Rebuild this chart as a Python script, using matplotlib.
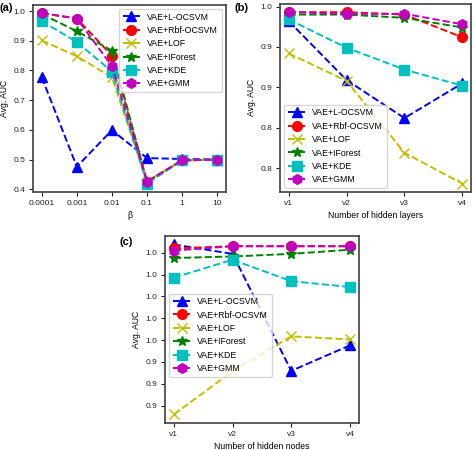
import matplotlib
matplotlib.use("Agg")
import matplotlib.pyplot as plt

plt.rcParams["font.family"] = ["Liberation Sans", "DejaVu Sans"]
plt.rcParams["font.size"] = 6

metodos = ["VAE+L-OCSVM", "VAE+Rbf-OCSVM", "VAE+LOF", "VAE+IForest", "VAE+KDE", "VAE+GMM"]

# Panel (a): beta
betas = ["0.0001", "0.001", "0.01", "0.1", "1", "10"]
auc_beta = {
    "VAE+L-OCSVM": [0.777, 0.476, 0.599, 0.505, 0.502, 0.500],
    "VAE+Rbf-OCSVM": [0.993, 0.975, 0.850, 0.426, 0.497, 0.500],
    "VAE+LOF": [0.901, 0.848, 0.777, 0.426, 0.497, 0.500],
    "VAE+IForest": [0.990, 0.932, 0.867, 0.426, 0.497, 0.500],
    "VAE+KDE": [0.966, 0.896, 0.796, 0.419, 0.497, 0.500],
    "VAE+GMM": [0.993, 0.975, 0.815, 0.426, 0.497, 0.500],
}

# Panel (b): capas ocultas
capas = ["v1", "v2", "v3", "v4"]
auc_capas = {
    "VAE+L-OCSVM": [0.982, 0.909, 0.862, 0.905],
    "VAE+Rbf-OCSVM": [0.993, 0.993, 0.990, 0.962],
    "VAE+LOF": [0.942, 0.908, 0.819, 0.781],
    "VAE+IForest": [0.990, 0.990, 0.986, 0.974],
    "VAE+KDE": [0.984, 0.949, 0.922, 0.902],
    "VAE+GMM": [0.993, 0.991, 0.991, 0.978],
}
ticks_capas = [0.80, 0.85, 0.90, 0.95, 1.00]
etiquetas_capas = ["0.8", "0.8", "0.9", "0.9", "1.0"]

# Panel (c): nodos ocultos
nodos = ["v1", "v2", "v3", "v4"]
auc_nodos = {
    "VAE+L-OCSVM": [0.9938, 0.9895, 0.9359, 0.9476],
    "VAE+Rbf-OCSVM": [0.9920, 0.9930, 0.9930, 0.9930],
    "VAE+LOF": [0.9159, 0.9357, 0.9517, 0.9503],
    "VAE+IForest": [0.9876, 0.9883, 0.9895, 0.9914],
    "VAE+KDE": [0.9786, 0.9868, 0.9770, 0.9743],
    "VAE+GMM": [0.9910, 0.9930, 0.9930, 0.9930],
}
ticks_nodos = [0.92, 0.93, 0.94, 0.95, 0.96, 0.97, 0.98, 0.99]
etiquetas_nodos = ["0.9", "0.9", "0.9", "1.0", "1.0", "1.0", "1.0", "1.0"]

estilos = {
    "VAE+L-OCSVM": ("b", "^"),
    "VAE+Rbf-OCSVM": ("r", "o"),
    "VAE+LOF": ("y", "x"),
    "VAE+IForest": ("g", "*"),
    "VAE+KDE": ("c", "s"),
    "VAE+GMM": ("m", "h"),
}


# Dibujar un panel con las seis curvas y su leyenda
def dibujar_panel(ax, categorias, valores, xlabel, letra, loc, bbox=None):
    posiciones = list(range(len(categorias)))
    for metodo in metodos:
        color, marcador = estilos[metodo]
        ax.plot(posiciones, valores[metodo], linestyle="--", color=color, marker=marcador,
                markersize=7, linewidth=1.4, label=metodo)
    ax.set_xticks(posiciones)
    ax.set_xticklabels(categorias)
    ax.set_xlabel(xlabel, fontsize=6.2, labelpad=3)
    ax.set_ylabel("Avg. AUC", fontsize=6.2, labelpad=3)
    for spine in ax.spines.values():
        spine.set_linewidth(1.2)
        spine.set_color("#404040")
    ax.tick_params(colors="#222222", labelsize=6, length=3, pad=2.5)
    if bbox is None:
        ax.legend(loc=loc, fontsize=6.3)
    else:
        ax.legend(loc=loc, bbox_to_anchor=bbox, fontsize=6.3)
    ax.figure.text(*letra[1], letra[0], fontweight="bold", fontsize=8, va="center")


fig = plt.figure(figsize=(4.74, 4.5), dpi=100)

ax_a = fig.add_axes([0.0696, 0.573, 0.407, 0.4167])
dibujar_panel(ax_a, betas, auc_beta, "β", ("(a)", (0.0, 0.982)), "upper right")

ax_b = fig.add_axes([0.5907, 0.573, 0.403, 0.419])
dibujar_panel(ax_b, capas, auc_capas, "Number of hidden layers", ("(b)", (0.494, 0.982)), "lower left")
ax_b.set_yticks(ticks_capas)
ax_b.set_yticklabels(etiquetas_capas)

ax_c = fig.add_axes([0.348, 0.06, 0.409, 0.4156])
dibujar_panel(ax_c, nodos, auc_nodos, "Number of hidden nodes", ("(c)", (0.253, 0.462)),
              "center left", bbox=(0.0, 0.47))
ax_c.set_yticks(ticks_nodos)
ax_c.set_yticklabels(etiquetas_nodos)

fig.savefig("out.png", dpi=100)
